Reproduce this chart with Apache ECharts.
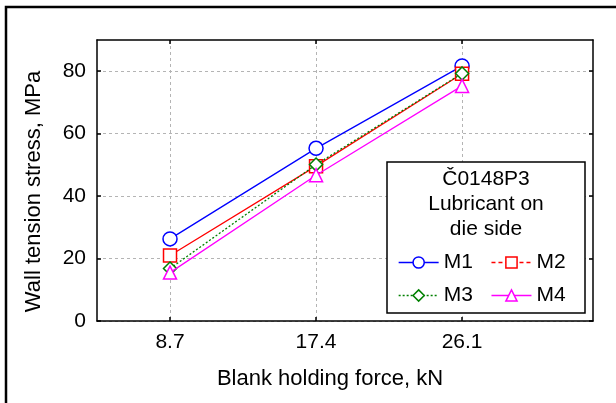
<!DOCTYPE html>
<html><head><meta charset="utf-8">
<script src="https://cdn.jsdelivr.net/npm/echarts@6/dist/echarts.min.js"></script>
<style>html,body{margin:0;padding:0;background:#fff}#c{width:616px;height:403px}</style>
</head><body><div id="c"></div>
<script>
const xTicks = [8.7, 17.4, 26.1];
const yTicks = [0, 20, 40, 60, 80];
const seriesNames = ['M1', 'M2', 'M3', 'M4'];
const m1 = [26.3, 55.3, 81.7];
const m2 = [21.0, 49.6, 79.2];
const m3 = [16.8, 50.1, 79.3];
const m4 = [15.5, 46.7, 75.3];
const legendTitle = ['Č0148P3', 'Lubricant on', 'die side'];
const xName = 'Blank holding force, kN';
const yName = 'Wall tension stress, MPa';

const FONT = 'Liberation Sans, Arial, sans-serif';
const chart = echarts.init(document.getElementById('c'), null, {renderer: 'canvas'});
const pairs = v => xTicks.map((x, i) => [x, v[i]]);
const styles = [
  {color: '#0000ff', type: 'solid', symbol: 'circle', size: 14},
  {color: '#ff0000', type: 'solid', symbol: 'rect', size: 13},
  {color: '#008000', type: [2, 2], symbol: 'diamond', size: 13},
  {color: '#ff00ff', type: 'solid', symbol: 'triangle', size: 13}
];
const legendTypes = ['solid', [4, 3], [2, 2], 'solid'];
const data = [m1, m2, m3, m4];

const gridLine = {show: true, lineStyle: {color: '#b4b4b4', type: [3, 3], width: 1}};
const axLine = {show: true, onZero: false, lineStyle: {color: '#000', width: 1.5}};
const tick = v => ({show: true, inside: true, length: 4, customValues: v, lineStyle: {color: '#000', width: 1.5}});
const legendItem = i => ({name: seriesNames[i], lineStyle: {type: legendTypes[i], width: 1.3}, itemStyle: {borderWidth: 1.5}});
const legendBase = {
  left: 398, padding: 0, itemGap: 18, itemWidth: 40, itemHeight: 14, orient: 'horizontal',
  textStyle: {fontSize: 21, color: '#000', fontFamily: FONT}, z: 20
};

chart.setOption({
  animation: false,
  textStyle: {fontFamily: FONT},
  grid: {left: 97, top: 40, right: 23, bottom: 82},
  xAxis: [{
    type: 'value', min: 4.35, max: 33.9, position: 'bottom',
    name: xName, nameLocation: 'middle', nameGap: 47,
    nameTextStyle: {fontSize: 22, color: '#000', fontFamily: FONT, padding: [0, 30, 0, 0]},
    axisLine: axLine, axisTick: tick(xTicks),
    axisLabel: {customValues: xTicks, fontSize: 21, color: '#000', margin: 11, fontFamily: FONT, formatter: v => String(v)},
    splitLine: gridLine
  }, {
    type: 'value', min: 4.35, max: 33.9, position: 'top',
    axisLine: axLine, axisTick: tick(xTicks),
    axisLabel: {show: false}, splitLine: {show: false}
  }],
  yAxis: [{
    type: 'value', min: 0, max: 90, position: 'left',
    name: yName, nameLocation: 'middle', nameGap: 52,
    nameTextStyle: {fontSize: 22, color: '#000', fontFamily: FONT, padding: [0, 22, 0, 0]},
    axisLine: axLine, axisTick: tick(yTicks),
    axisLabel: {customValues: yTicks, fontSize: 21, color: '#000', margin: 11, fontFamily: FONT},
    splitLine: gridLine
  }, {
    type: 'value', min: 0, max: 90, position: 'right',
    axisLine: axLine, axisTick: tick(yTicks),
    axisLabel: {show: false}, splitLine: {show: false}
  }],
  legend: [
    Object.assign({}, legendBase, {top: 252, data: [legendItem(0), legendItem(1)]}),
    Object.assign({}, legendBase, {top: 285, data: [legendItem(2), legendItem(3)]})
  ],
  graphic: [
    {type: 'rect', z: 0, shape: {x: 6, y: 7, width: 700, height: 500}, style: {fill: 'none', stroke: '#000', lineWidth: 2.5}, silent: true},
    {type: 'rect', z: 15, shape: {x: 387, y: 162, width: 198, height: 151}, style: {fill: '#fff', stroke: '#000', lineWidth: 1.5}},
    ...legendTitle.map((t, i) => ({type: 'text', z: 16, x: 486, y: 179 + i * 25,
      style: {text: t, fill: '#000', font: '21px ' + FONT, textAlign: 'center', textVerticalAlign: 'middle'}}))
  ],
  series: data.map((d, i) => ({
    name: seriesNames[i], type: 'line', xAxisIndex: 0, yAxisIndex: 0,
    data: pairs(d), symbol: styles[i].symbol, symbolSize: styles[i].size, showAllSymbol: true,
    lineStyle: {color: styles[i].color, width: 1.3, type: styles[i].type},
    itemStyle: {color: '#fff', borderColor: styles[i].color, borderWidth: 1.5},
    z: 2 + i
  }))
});
</script></body></html>
